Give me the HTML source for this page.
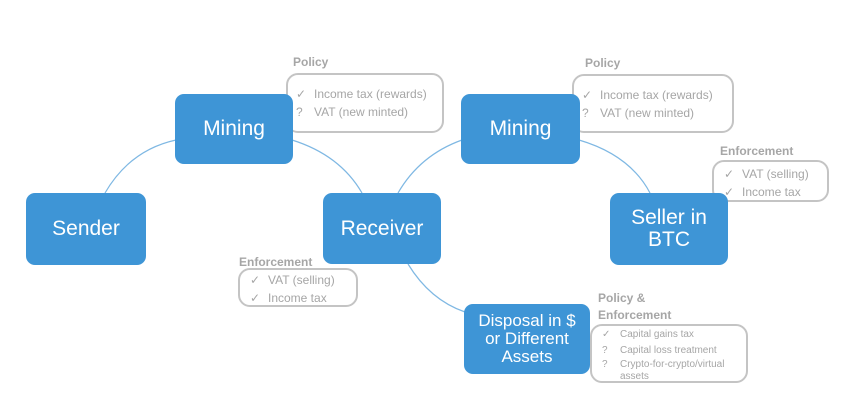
<!DOCTYPE html>
<html><head><meta charset="utf-8"><style>
body{margin:0;width:850px;height:418px;background:#fff;position:relative;overflow:hidden;font-family:"Liberation Sans",sans-serif}
.b{position:absolute;background:#3e95d6;border-radius:9px;color:#fff;display:flex;align-items:center;justify-content:center;text-align:center;font-size:21px;line-height:22px;z-index:2}
.g{position:absolute;border:2px solid #c4c4c4;border-radius:12px;color:#a6a6a6;font-size:12px;box-sizing:border-box;background:#fff}
.l{position:absolute;color:#a6a6a6;font-weight:bold;font-size:12px}
.g div{white-space:nowrap;height:18px;line-height:18px}
.g span{display:inline-block;width:18px}
</style></head><body>
<svg width="850" height="418" style="position:absolute;left:0;top:0">
<g fill="none" stroke="#7fb8e3" stroke-width="1.2">
<path d="M105 193 Q130 150 176 140"/>
<path d="M292 140 Q340 155 362 193"/>
<path d="M398 193 Q420 155 462 140"/>
<path d="M579 140 Q630 155 650 193"/>
<path d="M408 264 Q430 300 465 312"/>
</g></svg>
<div class="l" style="left:293px;top:55px">Policy</div>
<div class="g" style="left:286px;top:73px;width:158px;height:60px;padding:10px 0 0 8px"><div><span>✓</span>Income tax (rewards)</div><div><span>?</span>VAT (new minted)</div></div>
<div class="l" style="left:585px;top:56px">Policy</div>
<div class="g" style="left:572px;top:74px;width:162px;height:59px;padding:10px 0 0 8px"><div><span>✓</span>Income tax (rewards)</div><div><span>?</span>VAT (new minted)</div></div>
<div class="l" style="left:720px;top:144px">Enforcement</div>
<div class="g" style="left:712px;top:160px;width:117px;height:42px;padding:3px 0 0 10px"><div><span>✓</span>VAT (selling)</div><div><span>✓</span>Income tax</div></div>
<div class="l" style="left:239px;top:255px">Enforcement</div>
<div class="g" style="left:238px;top:268px;width:120px;height:39px;padding:1px 0 0 10px"><div><span>✓</span>VAT (selling)</div><div><span>✓</span>Income tax</div></div>
<div class="l" style="left:598px;top:290px;line-height:17px">Policy &amp;<br>Enforcement</div>
<div class="g" style="left:590px;top:324px;width:158px;height:59px;padding:1px 0 0 10px;font-size:10px"><div style="height:16px;line-height:16px"><span>✓</span>Capital gains tax</div><div style="height:16px;line-height:16px"><span>?</span>Capital loss treatment</div><div style="height:12px;line-height:12px"><span>?</span>Crypto-for-crypto/virtual</div><div style="height:12px;line-height:12px"><span></span>assets</div></div>

<div class="b" style="left:26px;top:193px;width:120px;height:72px">Sender</div>
<div class="b" style="left:175px;top:94px;width:118px;height:70px">Mining</div>
<div class="b" style="left:323px;top:193px;width:118px;height:71px">Receiver</div>
<div class="b" style="left:461px;top:94px;width:119px;height:70px">Mining</div>
<div class="b" style="left:610px;top:193px;width:118px;height:72px">Seller in<br>BTC</div>
<div class="b" style="left:464px;top:304px;width:126px;height:70px;font-size:17px;line-height:18px">Disposal in $<br>or Different<br>Assets</div>
</body></html>
